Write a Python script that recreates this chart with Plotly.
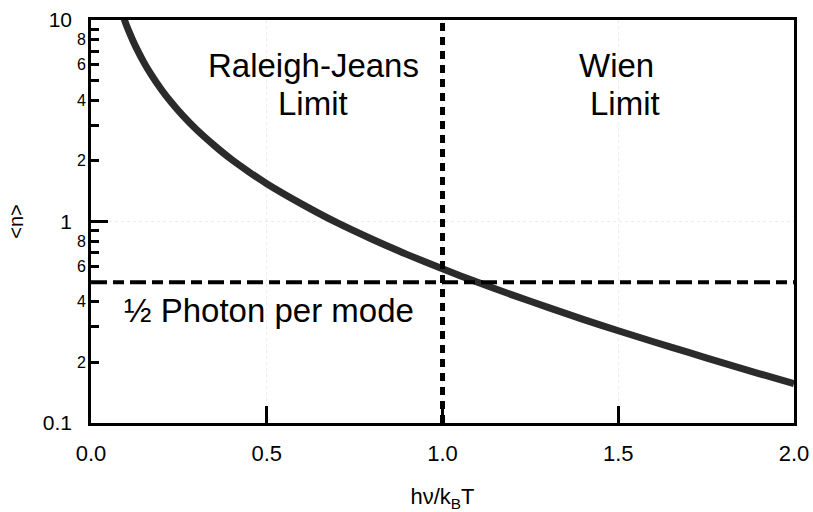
import math
import plotly.graph_objects as go

# ---- data ----
x_ratio = [0.09, 0.10, 0.11, 0.12, 0.13, 0.15, 0.17, 0.20, 0.23, 0.26, 0.30, 0.35,
           0.40, 0.45, 0.50, 0.60, 0.70, 0.80, 0.90,
           1.00, 1.10, 1.20, 1.30, 1.40, 1.50, 1.60, 1.70, 1.80, 1.90, 2.00]
n_occ = [10.6, 9.51, 8.61, 7.85, 7.21, 6.18, 5.40, 4.52, 3.87, 3.37, 2.86, 2.39,
         2.03, 1.76, 1.54, 1.22, 0.986, 0.816, 0.685,
         0.582, 0.499, 0.431, 0.375, 0.327, 0.287, 0.253, 0.224, 0.198, 0.176, 0.157]

half_photon_level = 0.5
boundary_x = 1.0

x_tick_vals = [0.0, 0.5, 1.0, 1.5, 2.0]
y_major_vals = [0.1, 1, 10]
y_major_text = ["0.1", "1", "10"]
y_minor_vals = [0.2, 0.3, 0.4, 0.5, 0.6, 0.7, 0.8, 0.9, 2, 3, 4, 5, 6, 7, 8, 9]
y_minor_label_vals = [0.2, 0.4, 0.6, 0.8, 2, 4, 6, 8]
y_minor_label_text = ["2", "4", "6", "8", "2", "4", "6", "8"]

FONT = "Arial, Liberation Sans, Helvetica, sans-serif"

fig = go.Figure()

fig.add_trace(go.Scatter(x=x_ratio, y=n_occ, mode="lines",
                         line=dict(color="#2b2b2b", width=7, shape="spline", smoothing=0.6),
                         showlegend=False, hoverinfo="skip"))
fig.add_trace(go.Scatter(x=[x_tick_vals[0], x_tick_vals[-1]],
                         y=[half_photon_level, half_photon_level], mode="lines",
                         line=dict(color="black", width=4, dash="16px,6px,11px,6px"),
                         showlegend=False, hoverinfo="skip"))
fig.add_trace(go.Scatter(x=[boundary_x, boundary_x], y=[y_major_vals[0], y_major_vals[-1]],
                         mode="lines",
                         line=dict(color="black", width=5, dash="8px,6px"),
                         showlegend=False, hoverinfo="skip"))

annotations = []
for v, t in zip(y_minor_label_vals, y_minor_label_text):
    annotations.append(dict(xref="paper", yref="y", x=0, y=math.log10(v), text=t,
                            showarrow=False, xanchor="right", yanchor="middle",
                            xshift=-3, font=dict(family=FONT, size=16, color="black")))

txt_font = dict(family=FONT, size=33, color="black")
for text, px, py in [("Raleigh-Jeans", 0.316, 0.886), ("Limit", 0.316, 0.794),
                     ("Wien", 0.748, 0.887), ("Limit", 0.759, 0.794),
                     ("½ Photon per mode", 0.253, 0.280)]:
    annotations.append(dict(xref="paper", yref="paper", x=px, y=py, text=text,
                            showarrow=False, xanchor="center", yanchor="middle",
                            font=txt_font))

fig.update_layout(
    width=813, height=512,
    margin=dict(l=91, r=19, t=20, b=89, autoexpand=False),
    paper_bgcolor="white", plot_bgcolor="white",
    font=dict(family=FONT, color="black"),
    annotations=annotations,
    xaxis=dict(range=[0, 2], tickvals=x_tick_vals, tickformat=".1f",
               ticks="inside", ticklen=17, tickwidth=3, tickcolor="black",
               ticklabelstandoff=9,
               showline=True, linecolor="black", linewidth=2.5, mirror=True,
               showgrid=True, gridcolor="#ececec", griddash="dot", gridwidth=1,
               zeroline=False, tickfont=dict(size=22), automargin=False,
               title=dict(text="hν/k<sub>B</sub>T", font=dict(size=22), standoff=24)),
    yaxis=dict(type="log", range=[-1, 1], tickvals=y_major_vals, ticktext=y_major_text,
               ticks="inside", ticklen=17, tickwidth=3, tickcolor="black",
               ticklabelstandoff=12, automargin=False,
               minor=dict(tickvals=y_minor_vals, ticks="inside", ticklen=8,
                          tickwidth=3, tickcolor="black", showgrid=False),
               showline=True, linecolor="black", linewidth=2.5, mirror=True,
               showgrid=True, gridcolor="#ececec", griddash="dot", gridwidth=1,
               zeroline=False, tickfont=dict(size=21),
               title=dict(text="&lt;n&gt;", font=dict(size=20), standoff=14)),
)

fig.write_html("out.html")
